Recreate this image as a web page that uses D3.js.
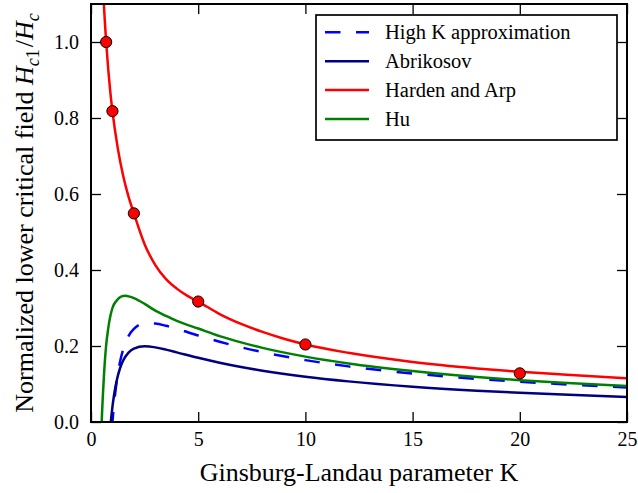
<!DOCTYPE html>
<html>
<head>
<meta charset="utf-8">
<script src="https://cdn.jsdelivr.net/npm/d3@7"></script>
<style>
  html, body { margin: 0; padding: 0; background: #fff; }
  svg { display: block; font-family: "Liberation Serif", "Times New Roman", serif; }
</style>
</head>
<body>
<svg id="chart" width="638" height="493"></svg>
<script>
// Lower critical field Hc1/Hc versus the Ginsburg-Landau parameter K.

// High-K approximation
const highKK = [0.98, 1.0, 1.05, 1.1, 1.2, 1.35, 1.5, 1.75, 2.0, 2.5, 3.0, 3.5, 4.0, 5.0, 6.0, 7.0, 8.0, 10.0, 12.0, 15.0, 18.0, 20.0, 22.0, 25.0];
const highKH = [-0.0146, 0.0, 0.0329, 0.0613, 0.1074, 0.1572, 0.1911, 0.2261, 0.2451, 0.2592, 0.2589, 0.2531, 0.2451, 0.2276, 0.2112, 0.1966, 0.1838, 0.1628, 0.1464, 0.1277, 0.1135, 0.1059, 0.0994, 0.0910];

// Abrikosov
const abrikosovK = [0.91, 0.923, 0.95, 1.0, 1.05, 1.1, 1.2, 1.35, 1.5, 1.75, 2.0, 2.5, 3.0, 3.5, 4.0, 5.0, 6.0, 7.0, 8.0, 10.0, 12.0, 15.0, 18.0, 20.0, 22.0, 25.0];
const abrikosovH = [-0.008, 0.0, 0.0151, 0.040, 0.0613, 0.0797, 0.1093, 0.1408, 0.1618, 0.1827, 0.1933, 0.1993, 0.1964, 0.1904, 0.1833, 0.1689, 0.1560, 0.1447, 0.1350, 0.1191, 0.1069, 0.0929, 0.0825, 0.0769, 0.0721, 0.0660];

// Harden and Arp
const hardenK = [0.58, 0.62, 0.66, 0.707, 0.8, 0.9, 1.0, 1.25, 1.5, 1.75, 2.0, 2.5, 3.0, 3.5, 4.0, 4.5, 5.0, 6.0, 7.0, 8.0, 9.0, 10.0, 12.0, 15.0, 18.0, 20.0, 22.0, 25.0];
const hardenH = [1.122, 1.079, 1.041, 1.0, 0.931, 0.869, 0.818, 0.720, 0.648, 0.593, 0.549, 0.468, 0.413, 0.376, 0.351, 0.332, 0.317, 0.284, 0.258, 0.237, 0.219, 0.204, 0.182, 0.158, 0.141, 0.132, 0.125, 0.115];

// Hu
const huK = [0.49, 0.5, 0.55, 0.6, 0.7, 0.8, 0.9, 1.0, 1.2, 1.4, 1.6, 1.8, 2.0, 2.5, 3.0, 3.5, 4.0, 5.0, 6.0, 7.0, 8.0, 10.0, 12.0, 15.0, 18.0, 20.0, 22.0, 25.0];
const huH = [-0.02, 0.0, 0.065, 0.118, 0.198, 0.245, 0.278, 0.300, 0.320, 0.330, 0.332, 0.330, 0.326, 0.311, 0.293, 0.279, 0.266, 0.246, 0.226, 0.2095, 0.195, 0.172, 0.154, 0.134, 0.1185, 0.110, 0.1035, 0.0946];

// Measured points (red dots)
const pointK = [0.707, 1, 2, 5, 10, 20];
const pointH = [1.0, 0.818, 0.549, 0.317, 0.204, 0.128];

// Axis ticks
const xTicks = [0, 5, 10, 15, 20, 25];
const yTicks = [0.0, 0.2, 0.4, 0.6, 0.8, 1.0];

const seriesNames = ["High K approximation", "Abrikosov", "Harden and Arp", "Hu"];
const seriesColors = ["#0000ff", "#000080", "#ff0000", "#008000"];

const series = [
  { name: seriesNames[0], color: seriesColors[0], k: highKK, h: highKH, dash: "15.5,15.5" },
  { name: seriesNames[1], color: seriesColors[1], k: abrikosovK, h: abrikosovH, dash: null },
  { name: seriesNames[2], color: seriesColors[2], k: hardenK, h: hardenH, dash: null },
  { name: seriesNames[3], color: seriesColors[3], k: huK, h: huH, dash: null }
];

const serif = '"Liberation Serif", "Times New Roman", serif';
const svg = d3.select("#chart");
const plot = { left: 91, top: 4, right: 627, bottom: 422 };

const x = d3.scaleLinear().domain([0, 25]).range([plot.left, plot.right]);
const y = d3.scaleLinear().domain([0, 1.1]).range([plot.bottom, plot.top]);

svg.append("defs").append("clipPath").attr("id", "plot-clip")
  .append("rect")
  .attr("x", plot.left).attr("y", plot.top)
  .attr("width", plot.right - plot.left).attr("height", plot.bottom - plot.top);

const line = d3.line()
  .x(d => x(d[0]))
  .y(d => y(d[1]))
  .curve(d3.curveMonotoneX);

const curves = svg.append("g").attr("clip-path", "url(#plot-clip)");
series.forEach(s => {
  const pts = s.k.map((k, i) => [k, s.h[i]]);
  curves.append("path")
    .datum(pts)
    .attr("d", line)
    .attr("fill", "none")
    .attr("stroke", s.color)
    .attr("stroke-width", 2.5)
    .attr("stroke-dasharray", s.dash);
});

// Red measured points
svg.append("g").selectAll("circle")
  .data(pointK.map((k, i) => [k, pointH[i]]))
  .join("circle")
  .attr("cx", d => x(d[0]))
  .attr("cy", d => y(d[1]))
  .attr("r", 5.6)
  .attr("fill", "#ff0000")
  .attr("stroke", "#000")
  .attr("stroke-width", 1);

// Axes with inward ticks on all four sides
function styleAxis(g) {
  g.attr("font-family", serif).attr("font-size", 20);
  g.select(".domain").remove();
  g.selectAll(".tick line").attr("stroke", "#000").attr("stroke-width", 1.3);
  g.selectAll(".tick text").attr("fill", "#000");
}

svg.append("g")
  .attr("transform", `translate(0,${plot.bottom})`)
  .call(d3.axisBottom(x).tickValues(xTicks).tickFormat(d3.format("d")).tickSize(-10).tickPadding(10))
  .call(styleAxis);

svg.append("g")
  .attr("transform", `translate(0,${plot.top})`)
  .call(d3.axisTop(x).tickValues(xTicks).tickFormat("").tickSize(-10))
  .call(styleAxis);

svg.append("g")
  .attr("transform", `translate(${plot.left},0)`)
  .call(d3.axisLeft(y).tickValues(yTicks).tickFormat(d3.format(".1f")).tickSize(-10).tickPadding(12))
  .call(styleAxis);

svg.append("g")
  .attr("transform", `translate(${plot.right},0)`)
  .call(d3.axisRight(y).tickValues(yTicks).tickFormat("").tickSize(-10))
  .call(styleAxis);

// Frame
svg.append("rect")
  .attr("x", plot.left).attr("y", plot.top)
  .attr("width", plot.right - plot.left).attr("height", plot.bottom - plot.top)
  .attr("fill", "none").attr("stroke", "#000").attr("stroke-width", 2);

// Axis titles
svg.append("text")
  .attr("x", (plot.left + plot.right) / 2)
  .attr("y", 481)
  .attr("text-anchor", "middle")
  .attr("font-family", serif)
  .attr("font-size", 26)
  .attr("fill", "#000")
  .text("Ginsburg-Landau parameter K");

const yTitle = svg.append("text")
  .attr("transform", `translate(33,${(plot.top + plot.bottom) / 2}) rotate(-90)`)
  .attr("text-anchor", "middle")
  .attr("font-family", serif)
  .attr("font-size", 26)
  .attr("fill", "#000");
yTitle.append("tspan").text("Normalized lower critical field ");
yTitle.append("tspan").attr("font-style", "italic").text("H");
yTitle.append("tspan").attr("font-style", "italic").attr("font-size", 18).attr("dy", 6).text("c");
yTitle.append("tspan").attr("font-size", 18).text("1");
yTitle.append("tspan").attr("dy", -6).attr("dx", 2).text("/");
yTitle.append("tspan").attr("font-style", "italic").text("H");
yTitle.append("tspan").attr("font-style", "italic").attr("font-size", 18).attr("dy", 6).text("c");

// Legend
const legend = svg.append("g");
legend.append("rect")
  .attr("x", 316).attr("y", 15)
  .attr("width", 301).attr("height", 125)
  .attr("fill", "#fff").attr("stroke", "#000").attr("stroke-width", 1.7);

const rowY = d3.scalePoint().domain(seriesNames).range([32.3, 119]);
series.forEach(s => {
  const yy = rowY(s.name);
  legend.append("line")
    .attr("x1", 325).attr("x2", 369)
    .attr("y1", yy).attr("y2", yy)
    .attr("stroke", s.color)
    .attr("stroke-width", 2.5)
    .attr("stroke-dasharray", s.dash);
  legend.append("text")
    .attr("x", 385).attr("y", yy)
    .attr("dy", "0.33em")
    .attr("font-family", serif)
    .attr("font-size", 20.5)
    .attr("fill", "#000")
    .text(s.name);
});
</script>
</body>
</html>
